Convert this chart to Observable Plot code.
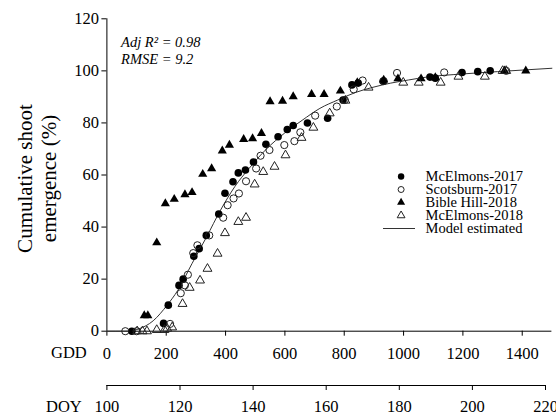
<!DOCTYPE html>
<html><head><meta charset="utf-8">
<script src="https://cdn.jsdelivr.net/npm/d3@7"></script>
<script src="https://cdn.jsdelivr.net/npm/@observablehq/plot@0.6"></script>
<style>
html,body{margin:0;padding:0;background:#fff;overflow:hidden;}
#wrap{position:relative;width:556px;height:413px;overflow:hidden;background:#fff;}
#wrap svg{position:absolute;left:0;top:0;}
#wrap svg text{font-family:"Liberation Serif","Times New Roman",serif !important;}
</style></head><body><div id="wrap"></div>
<script>
// ---- data (GDD, cumulative shoot emergence %) ----
const mcElmons2017 = [[84,0],[191,3],[207,10],[243,17.6],[257,20],[293,28.8],[311,31.7],[335,36.8],[377,45],[398,53],[425,57.4],[443,60.8],[467,61.9],[494,65],[536,71.8],[577,74.7],[608,77.5],[628,79],[676,80],[744,81.8],[796,88.8],[826,94.6],[847,95.3],[931,96],[1089,97.6],[1107,97.2],[1197,99.4],[1250,99.7],[1292,100]];
const scotsburn2017 = [[62,0],[100,0],[213,2.8],[249,14.6],[263,17.6],[273,21.7],[291,30],[305,33],[345,36.8],[392,43.6],[407,48.4],[427,51],[445,52.9],[469,57.6],[503,62.5],[518,67.4],[548,69.6],[598,71.5],[632,73],[652,76.4],[702,82.8],[775,86.3],[802,88.8],[832,92.9],[862,96.3],[933,96.1],[978,99.2],[1137,99.4],[1346,100]];
const bibleHill2018 = [[126,6],[138,6],[168,34],[197,49],[227,50.7],[263,52.5],[287,53.3],[323,60.3],[353,62.5],[389,69.3],[413,71.5],[461,73.7],[491,74],[521,76],[550,88.2],[592,88.4],[628,90.1],[690,91],[732,91],[787,92.3],[844,95.5],[933,96.5],[981,97],[1059,97],[1107,97.4],[1340,100],[1412,100]];
const mcElmons2018 = [[102,0],[120,0],[135,0],[168,0.5],[194,0.5],[203,1],[220,1.5],[255,10.5],[279,16.7],[314,19.5],[339,24],[373,29.8],[398,37.7],[443,42],[469,43.6],[498,56.4],[527,61.2],[565,63.2],[602,67.6],[656,74.3],[696,78.2],[751,83.7],[804,88.6],[882,93.6],[999,95.5],[1051,95.5],[1125,95.5],[1185,97.8],[1274,97.8],[1334,100],[1346,100]];
const modelCurve = [[0,0],[60,0],[85,0.2],[108,0.9],[156,4],[203,10],[239,15.7],[287,26],[335,36],[383,46.5],[431,55.5],[479,62.5],[538,70],[598,76],[658,81],[718,85.6],[778,88.8],[838,91.7],[897,93.7],[957,95.3],[1017,96.5],[1077,97.6],[1197,98.8],[1316,99.7],[1500,101]];
const legendLabels = ["McElmons-2017","Scotsburn-2017","Bible Hill-2018","McElmons-2018","Model estimated"];
const yTicks = [0,20,40,60,80,100,120];
const gddTicks = [0,200,400,600,800,1000,1200,1400];
const doyTicks = [100,120,140,160,180,200,220];
const yTitle = "Cumulative shoot\nemergence (%)";
const stats = "Adj R\u00B2 = 0.98\nRMSE = 9.2";

const W = 556, H = 413;
const ink = "#000";
const ff = '"Liberation Serif","Times New Roman",serif';
const css = (fs) => `font-family:${ff};font-size:${fs}px;color:${ink};background:transparent;overflow:visible;`;
const fmt = d => String(d);

const main = Plot.plot({
  width: W, height: H,
  marginLeft: 106.4, marginRight: 4.6, marginTop: 18.3, marginBottom: 82.3,
  style: css(16.5),
  x: {domain: [0, 1500]},
  y: {domain: [0, 120]},
  marks: [
    Plot.axisY({ticks: yTicks, tickSize: 5, tickPadding: 3, label: null, tickFormat: fmt, fontSize: 16.5, fontFamily: ff}),
    Plot.axisX({ticks: gddTicks, tickSize: 5, tickPadding: 11, label: null, tickFormat: fmt, fontSize: 16.5, fontFamily: ff}),
    Plot.ruleX([0], {y1: 0, y2: 120, stroke: ink, strokeWidth: 1}),
    Plot.ruleY([0], {x1: 0, x2: 1500, stroke: ink, strokeWidth: 1}),
    Plot.line(modelCurve, {x: d => d[0], y: d => d[1], stroke: "#333", strokeWidth: 1, curve: "monotone-x"}),
    Plot.dot(mcElmons2017, {x: d => d[0], y: d => d[1], symbol: "circle", r: 3.8, fill: "#000"}),
    Plot.dot(scotsburn2017, {x: d => d[0], y: d => d[1], symbol: "circle", r: 3.6, fill: "none", stroke: "#222", strokeWidth: 1}),
    Plot.dot(bibleHill2018, {x: d => d[0], y: d => d[1], symbol: "triangle", r: 3.4, fill: "#000"}),
    Plot.dot(mcElmons2018, {x: d => d[0], y: d => d[1], symbol: "triangle", r: 3.3, fill: "none", stroke: "#222", strokeWidth: 1}),
    Plot.text(["GDD"], {frameAnchor: "bottom-left", dx: -38, dy: 22, fontSize: 16.5, fontFamily: ff, fill: ink, textAnchor: "middle", lineAnchor: "middle"}),
    Plot.text([yTitle], {frameAnchor: "left", rotate: -90, dx: -71, dy: 3.5, fontSize: 21, fontFamily: ff, lineHeight: 1.14, fill: ink, textAnchor: "middle", lineAnchor: "middle"}),
    Plot.text([stats], {frameAnchor: "top-left", dx: 14.2, dy: 16.2, fontSize: 14.5, fontFamily: ff, fontStyle: "italic", lineHeight: 1.17, textAnchor: "start", lineAnchor: "top", fill: ink})
  ]
});

const doy = Plot.plot({
  width: W, height: H,
  marginLeft: 106.4, marginRight: 11, marginTop: 380, marginBottom: 28,
  style: css(16.5),
  x: {domain: [100, 220]},
  y: {domain: [0, 1], axis: null},
  marks: [
    Plot.axisX({ticks: doyTicks, tickSize: 5, tickPadding: 10, label: null, tickFormat: fmt, fontSize: 16.5, fontFamily: ff}),
    Plot.ruleY([0], {x1: 100, x2: 220, stroke: ink, strokeWidth: 1}),
    Plot.text(["DOY"], {frameAnchor: "bottom-left", dx: -43, dy: 21, fontSize: 16.5, fontFamily: ff, fill: ink, textAnchor: "middle", lineAnchor: "middle"})
  ]
});

const legend = Plot.plot({
  width: W, height: H,
  marginLeft: 0, marginRight: 0, marginTop: 0, marginBottom: 0,
  style: css(14.5),
  x: {domain: [0, 1], range: [383, 415], axis: null},
  y: {type: "point", domain: legendLabels, range: [168, 235], axis: null},
  marks: [
    Plot.dot([legendLabels[0]], {x: 0.55, y: d => d, symbol: "circle", r: 3.2, fill: "#000"}),
    Plot.dot([legendLabels[1]], {x: 0.55, y: d => d, symbol: "circle", r: 3.0, fill: "none", stroke: "#222", strokeWidth: 1}),
    Plot.dot([legendLabels[2]], {x: 0.55, y: d => d, symbol: "triangle", r: 3.0, fill: "#000"}),
    Plot.dot([legendLabels[3]], {x: 0.55, y: d => d, symbol: "triangle", r: 2.9, fill: "none", stroke: "#222", strokeWidth: 1}),
    Plot.ruleY([legendLabels[4]], {y: d => d, x1: 0, x2: 1, stroke: "#333", strokeWidth: 1}),
    Plot.text(legendLabels, {x: 1, y: d => d, dx: 10, textAnchor: "start", fontSize: 14.5, fontFamily: ff, fill: ink})
  ]
});

const wrap = document.getElementById("wrap");
wrap.append(main, doy, legend);
</script>
</body></html>
